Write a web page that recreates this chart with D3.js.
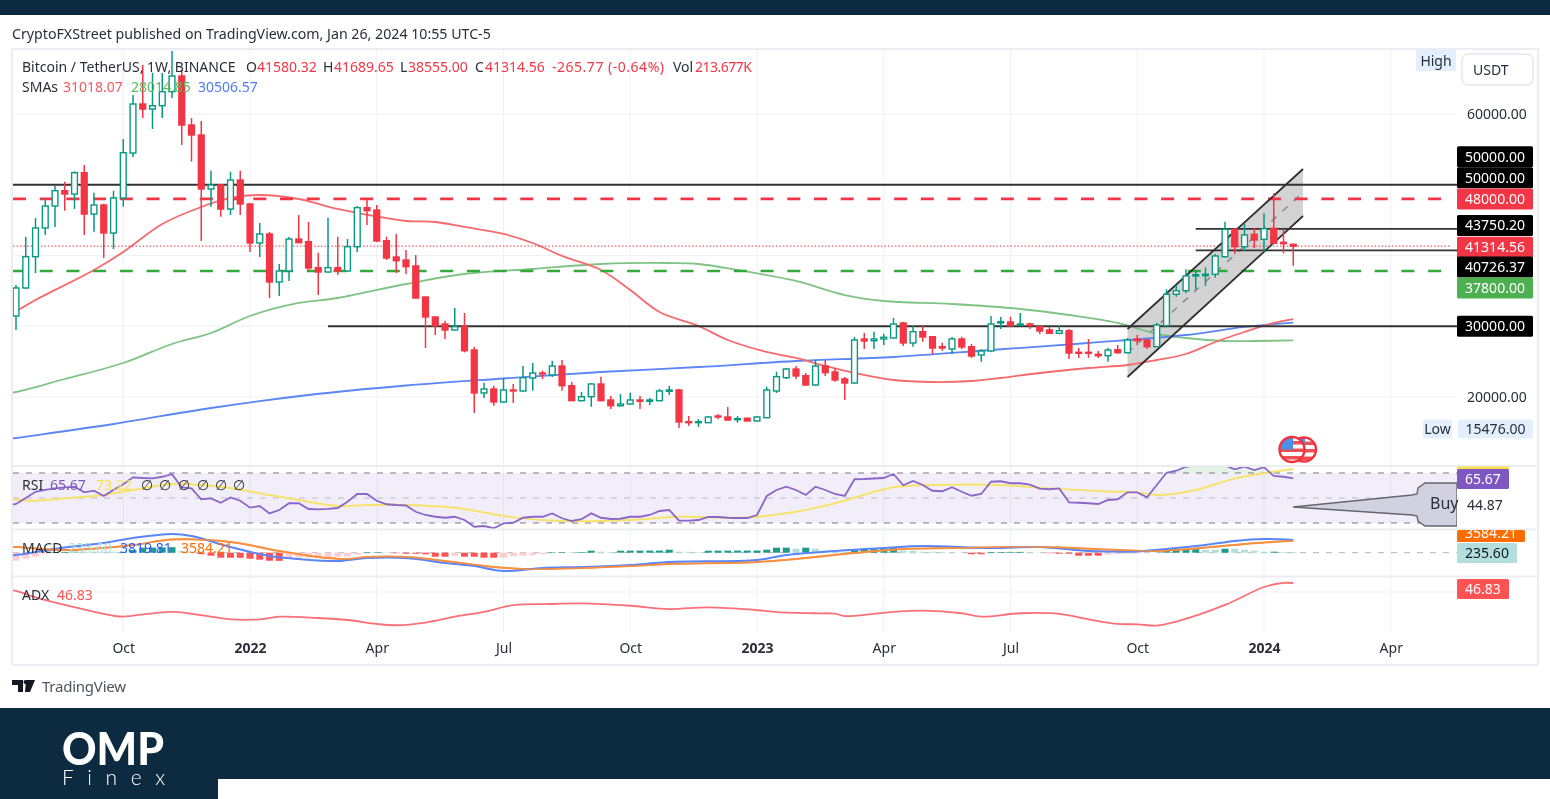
<!DOCTYPE html>
<html>
<head>
<meta charset="utf-8">
<script src="https://cdn.jsdelivr.net/npm/d3@7"></script>
<style>
html, body { margin: 0; padding: 0; background: #fff; overflow: hidden; }
svg { display: block; filter: blur(0.45px); }
text { font-family: "Noto Sans", sans-serif; font-size: 14px; fill: #2a2e39; }
</style>
</head>
<body>
<svg id="chart" width="1550" height="799"></svg>
<script>
// weekly candles, bar 0 = first visible week (Jul 2021)
var opens = [
  31450,35410,39830,43890,46990,49160,48690,51700,45860,47140,
  43180,48130,54490,61410,60700,61170,63150,65370,58440,57030,
  49400,49970,46570,50670,47280,41770,43040,36255,37810,42330,
  41950,38290,37670,38290,37810,41240,46760,46430,42090,39790,
  39365,38520,34135,31310,30320,29470,29940,26644,20570,21130,
  19295,20990,20850,22690,23390,23110,24380,21600,19480,20040,
  21840,19577,18770,19010,19577,19390,19480,20806,20990,16510,
  16370,16370,17315,17175,16790,17000,16610,17075,20850,22730,
  23955,23010,21700,24380,23535,22545,21980,28200,27960,28200,
  28340,30460,27635,29230,28525,27110,26785,28200,27110,25935,
  26500,30460,30600,30135,30320,29940,29470,29000,29370,26320,
  26320,26035,25840,26690,26260,28200,28057,27110,30080,34515,
  35025,37105,37145,37345,39830,43700,41245,42997,42290,43845,
  41865,41580.32];
var highs = [
  35830,42660,45300,48130,49860,50430,51900,52790,48880,47300,
  49160,56470,62690,66930,65800,65800,68900,66220,59430,59010,
  51990,50100,51850,51990,47400,44600,43320,38800,42620,45720,
  44735,40400,45340,42660,42330,46990,48130,47140,42660,43040,
  40780,40070,34200,31400,30785,32580,31875,27070,22020,21600,
  22690,21840,24380,24805,23720,25130,25230,22120,20710,21950,
  22870,20140,20425,20610,20140,19860,21130,21555,21130,17315,
  16890,17315,17600,18590,17315,17050,17315,21455,23580,24100,
  24380,23390,25230,25230,24100,22830,28480,29045,29230,28905,
  31165,30645,30035,30035,28620,27675,28480,28525,27490,26785,
  31450,31310,31350,31875,30500,30080,29940,30180,29610,26925,
  28200,26500,26970,27350,28340,28765,28200,30500,35225,35830,
  38050,37950,38330,40213,44780,43890,44453,43890,45965,48790,
  43605,41689.65];
var lows = [
  29470,35260,37530,42900,44030,46330,46570,42900,43360,39650,
  40920,46900,53920,59430,57880,59430,62260,55620,53260,42050,
  46900,45480,45720,45720,40500,39790,33990,34280,36400,41800,
  37950,34420,37600,37245,37700,40500,44310,41910,39365,37530,
  37390,33950,26925,28765,28200,29400,26300,17740,19860,18770,
  19200,19150,20750,20890,22545,22830,20890,21300,19400,18630,
  19400,18305,18630,18950,18305,18870,19400,20280,15620,15945,
  15760,16325,16890,16690,16370,16580,16550,17000,20570,22545,
  22545,21555,21555,22970,22165,19577,21900,26785,26785,27350,
  28280,27210,27110,27820,26080,26545,26080,26785,25510,24990,
  26400,29610,29940,30080,29610,28905,28905,28860,25370,25510,
  25555,25510,24990,26100,26200,27350,26785,27050,30000,34180,
  34660,35124,35690,36865,39700,40213,40640,41060,40540,41625,
  40310,38555];
var closes = [
  35410,39830,43890,46990,49160,48690,51700,45860,47140,43180,
  48130,54530,61410,60700,61170,63150,65370,58440,57030,49400,
  49970,46570,50670,47280,41770,43040,36255,37810,42330,41810,
  38230,37670,38290,37810,41240,46760,46330,42050,39650,39270,
  38420,33990,31310,30080,29470,29940,26545,20570,21130,19295,
  20990,20850,22730,23390,23250,24380,21600,19480,20040,21840,
  19480,18770,19010,19577,19390,19577,20850,20990,16470,16370,
  16510,17175,17175,16750,16935,16610,17175,20990,22870,23955,
  22970,21700,24380,23435,22400,21980,28060,27915,28200,28440,
  30320,27635,29230,28480,26925,26925,28200,27070,25795,26500,
  30320,30645,30080,30320,30135,29330,29000,29370,26220,26180,
  26180,25840,26644,26260,28060,27960,27110,30180,34515,35025,
  37105,37285,37345,39930,43700,41245,42900,42190,43790,41725,
  41670,41314.56];

// moving averages, read at the bars listed
var smaRedBars = [-1,0,2,8,11,15,19,22,25,29,33,37,40,43,46,50,53,56,60,63,66,70,73,77,80,83,86,90,94,98,101,105,110,114,117,120,123,126,129,131];
var smaRedVals = [31700,32156,33711,37951,40495,44450,46856,48130,48550,47985,46573,45513,44877,44736,44030,43040,41767,39950,37951,35124,32015,30036,28057,26362,25513,24383,23394,22404,22121,22263,22687,23394,24100,24524,25231,26079,27775,29189,30461,31018];
var smaGreenBars = [-1,0,5,11,16,20,24,29,33,40,46,53,60,67,70,74,80,85,89,96,103,108,113,117,120,124,127,131];
var smaGreenVals = [20550,20707,22545,24807,27493,29046,31450,33288,33993,35973,37386,38093,38800,38941,38800,37951,36396,34410,33569,33146,32439,31591,30460,28905,28340,27917,27917,28015];
var smaBlueBars = [-1,0,10,20,30,40,50,60,70,80,90,100,110,120,126,131];
var smaBlueVals = [14000,14207,16185,18446,20284,21627,22617,23535,24241,25090,25656,26644,27635,28765,29897,30507];

// RSI from bar -1 to bar 131
var rsiVals = [43.5,
  45.2,50,55,56.5,57.7,58.5,59,54.5,55.9,51.6,56.5,61,66.5,66,65.7,67,69,58.5,57.7,49,
  49.7,46.2,50.5,47.8,42.3,43.6,37.7,40.4,45.8,45.8,41.2,40.9,41.3,42,47,53.2,53.2,47.8,45,44.4,
  44,39,36.4,35,34.2,35,32.4,27,27.6,25.8,29.7,30.2,34.2,35,35,37.7,33.8,31.6,33,37.7,
  34.2,33.2,33.4,35,35,36.4,39.6,40.4,31.9,31.9,32.4,34.8,34.8,34.2,34,34,36.4,51.6,56.4,59,
  56.4,52.4,59,56.4,53.2,51.6,65,65.2,65.6,66,69.2,60.2,63.6,60.4,55.8,55.4,58.6,55,51.8,53.2,
  63,63.4,61.8,61.8,60.7,57.5,57,57.7,46.5,46.2,45.8,45.2,48.4,49,54.5,54.5,50.5,60.4,70.2,71.8,
  75,76,76,76,76,73,75,72.4,74.6,67.6,67,65.67];
var rsiMaBars = [-1,2,5,9,12,16,19,22,26,29,33,36,39,45,47,51,56,63,68,75,80,84,90,94,101,106,112,115,117,121,125,129,131];
var rsiMaVals = [49.4,47.8,49.7,52.4,56.4,61.2,60.4,58,52.4,48.4,43.6,44.4,44.6,42.2,39.8,34.5,31.6,32.4,35,34.5,39,45.8,58.6,60.4,60.4,57.7,55.2,54.5,52.4,56.4,65.7,71,73.22];

// MACD
var macdBars = [-1,0,5,9,12,16,18,22,26,29,33,36,40,44,47,50,54,58,63,67,76,79,84,89,93,100,105,110,115,118,122,125,128,131];
var macdVals = [-700,-690,1560,2910,4410,5610,5010,1710,-990,-1890,-2490,-1590,-1590,-3090,-3990,-5490,-4590,-4290,-3690,-2790,-2190,-690,510,1410,2010,1410,1710,510,360,1110,2310,3510,4110,3819.81];
var signalBars = [-1,0,5,12,16,22,27,31,34,36,40,44,49,52,58,63,67,76,82,86,91,96,105,113,117,121,126,131];
var signalVals = [1800,1710,810,2310,3960,3210,510,-1290,-1890,-1290,-1290,-2490,-4290,-4890,-4590,-3990,-3390,-2790,-1290,-90,1110,1410,1710,810,510,1260,2610,3584.21];
var histVals = [
  -2400,-1800,-1200,-300,150,250,300,280,260,240,230,250,800,1500,1550,1600,1650,500,300,-450,
  -900,-1500,-1510,-1520,-1800,-2100,-2400,-2450,-1800,-1500,-1490,-1480,-1470,-1200,-1190,-600,150,160,100,-150,
  -300,-310,-450,-1200,-1210,-900,-1200,-1210,-1500,-1510,-1500,-1050,-900,-750,-450,150,160,120,210,600,
  300,210,600,610,620,630,640,900,300,290,150,600,610,620,630,640,650,900,1500,1510,
  1200,1500,1200,600,300,290,900,1200,1210,1220,1500,600,590,300,290,210,150,50,-450,-460,
  210,220,230,240,150,90,-150,-300,-310,-900,-910,-920,-600,-450,-300,-200,-100,50,600,900,
  910,1200,900,890,1200,1190,900,600,300,310,240,235.6];

// ADX
var adxBars = [-1,0,2,5,10,11,16,22,25,27,31,34,37,39,42,45,48,51,55,58,63,67,71,76,78,82,84,85,90,93,97,99,103,107,110,113,115,117,119,124,128,130,131];
var adxVals = [42,40.8,36,30.2,22,21.3,25,19.3,19.3,21.3,20.3,18.8,15.8,14.8,16.8,21.3,25,30,30.9,31.4,29.6,27.1,28.4,26.3,24.8,23.9,23.6,21.8,25,25.9,23.9,21.3,23.9,23.4,19.3,15.8,15.5,14.5,17.5,30.2,43.8,46.9,46.83];

// drawings
var resistance = 48000, support = 37800, lastClose = 41314.56;
var channelBars = [114, 132];
var channelTop = [29611, 52226];
var channelBottom = [22828, 45584];
var hLines = [
  {bar: -1, price: 50000},
  {bar: 32, price: 30000},
  {bar: 121, price: 43750.2},
  {bar: 121, price: 40726.37}
];

// axis labels
var timeTicks = [11, 24, 37, 50, 63, 76, 89, 102, 115, 128, 141];
var timeLabels = ["Oct", "2022", "Apr", "Jul", "Oct", "2023", "Apr", "Jul", "Oct", "2024", "Apr"];
var priceTicks = [60000, 20000];
var gridPrices = [60000, 50000, 40000, 30000, 20000];
var priceTags = [50000, 50000, 48000, 43750.2, 41314.56, 40726.37, 37800, 30000];
var priceTagColors = ["#000", "#000", "#f23645", "#000", "#f23645", "#000", "#4caf50", "#000"];
// tags pushed apart by the price scale so they do not overlap
var priceTagShift = [-28, -7, 0, -3.5, 1, 16.7, 17, 0];

var svg = d3.select("#chart");
var defs = svg.append("defs");

var x = d3.scaleLinear().domain([0, 128]).range([16, 1264]);
var priceY = d3.scaleLinear().domain([60000, 20000]).range([114, 397]);
var rsiY = d3.scaleLinear().domain([70, 30]).range([473, 523]);
var macdY = d3.scaleLinear().domain([0, 3000]).range([552.7, 542.7]);
var adxY = d3.scaleLinear().domain([46.83, 15]).range([583, 625]);

function addClip(id, cx, cy, w, h) {
  defs.append("clipPath").attr("id", id).append("rect")
    .attr("x", cx).attr("y", cy).attr("width", w).attr("height", h);
}
addClip("clipMain", 13, 50, 1444, 415);
addClip("clipRsi", 13, 467, 1444, 62);
addClip("clipMacd", 13, 530, 1444, 46);
addClip("clipAdx", 13, 578, 1444, 59);
addClip("clipOrange", 1457, 530, 70, 13);
addClip("clipBuy", 1280, 467, 177, 62);

// background bands
svg.append("rect").attr("width", 1550).attr("height", 15).attr("fill", "#0c2b40");
svg.append("rect").attr("y", 708).attr("width", 1550).attr("height", 91).attr("fill", "#0c2b40");
svg.append("rect").attr("x", 218).attr("y", 779).attr("width", 1332).attr("height", 20).attr("fill", "#fff");

svg.append("text").attr("x", 12).attr("y", 39).style("font-size", "14.2px")
  .text("CryptoFXStreet published on TradingView.com, Jan 26, 2024 10:55 UTC-5");

// grid
svg.selectAll(".vgrid").data(timeTicks).enter().append("line")
  .attr("x1", d => x(d)).attr("x2", d => x(d)).attr("y1", 50).attr("y2", 632)
  .attr("stroke", "#f0f1f6").attr("stroke-width", 1);
svg.selectAll(".hgrid").data(gridPrices).enter().append("line")
  .attr("x1", 13).attr("x2", 1457).attr("y1", d => priceY(d)).attr("y2", d => priceY(d))
  .attr("stroke", "#f0f1f6").attr("stroke-width", 1);
svg.append("line").attr("x1", 13).attr("x2", 1457).attr("y1", adxY(40)).attr("y2", adxY(40))
  .attr("stroke", "#f0f1f6");

// main pane
var main = svg.append("g").attr("clip-path", "url(#clipMain)");

function lineFrom(scale, bars, vals) {
  var pts = bars.map((b, i) => [x(b), scale(vals[i])]);
  return d3.line().curve(d3.curveCatmullRom.alpha(0.5))(pts);
}
function addLine(g, scale, bars, vals, color, width) {
  g.append("path").attr("d", lineFrom(scale, bars, vals))
    .attr("fill", "none").attr("stroke", color).attr("stroke-width", width || 1.8);
}

// channel
var chanArea = d3.area().x(d => x(d.b)).y0(d => priceY(d.t)).y1(d => priceY(d.l));
var chanData = channelBars.map((b, i) => ({b: b, t: channelTop[i], l: channelBottom[i]}));
main.append("path").attr("d", chanArea(chanData)).attr("fill", "#8c8c8c").attr("fill-opacity", 0.38);
var chanLine = d3.line().x(d => x(d[0])).y(d => priceY(d[1]));
main.append("path")
  .attr("d", chanLine(channelBars.map((b, i) => [b, (channelTop[i] + channelBottom[i]) / 2])))
  .attr("fill", "none").attr("stroke", "#8a8a8a").attr("stroke-width", 1.5).attr("stroke-dasharray", "7,8");

// moving averages
addLine(main, priceY, smaGreenBars, smaGreenVals, "#7fc484");
addLine(main, priceY, smaBlueBars, smaBlueVals, "#5b86f7");
addLine(main, priceY, smaRedBars, smaRedVals, "#f66a6e");

// dashed levels
main.append("line").attr("x1", 13).attr("x2", 1450).attr("y1", priceY(lastClose)).attr("y2", priceY(lastClose))
  .attr("stroke", "#f23645").attr("stroke-width", 1.2).attr("stroke-dasharray", "1.5,2").attr("stroke-opacity", 0.8);
main.append("line").attr("x1", 13).attr("x2", 1446).attr("y1", priceY(resistance)).attr("y2", priceY(resistance))
  .attr("stroke", "#f23645").attr("stroke-width", 2.6).attr("stroke-dasharray", "13,13.7");
main.append("line").attr("x1", 13).attr("x2", 1446).attr("y1", priceY(support)).attr("y2", priceY(support))
  .attr("stroke", "#35a83c").attr("stroke-width", 2.6).attr("stroke-dasharray", "13,13.7");

// black levels
main.selectAll(".hl").data(hLines).enter().append("line")
  .attr("x1", d => x(d.bar)).attr("x2", 1457)
  .attr("y1", d => priceY(d.price)).attr("y2", d => priceY(d.price))
  .attr("stroke", "#333").attr("stroke-width", 1.8);

// channel borders
[channelTop, channelBottom].forEach(function (side) {
  main.append("path").attr("d", chanLine(channelBars.map((b, i) => [b, side[i]])))
    .attr("fill", "none").attr("stroke", "#2f2f2f").attr("stroke-width", 1.8);
});

// candles
var up = "#089981", down = "#f23645";
var candles = main.selectAll(".candle").data(opens).enter().append("g");
candles.append("line")
  .attr("x1", (d, i) => x(i)).attr("x2", (d, i) => x(i))
  .attr("y1", (d, i) => priceY(highs[i])).attr("y2", (d, i) => priceY(lows[i]))
  .attr("stroke", (d, i) => closes[i] >= d ? up : down).attr("stroke-width", 1.5);
candles.append("rect")
  .attr("x", (d, i) => x(i) - 2.9).attr("width", 5.8)
  .attr("y", (d, i) => priceY(Math.max(d, closes[i])))
  .attr("height", (d, i) => Math.max(1, Math.abs(priceY(d) - priceY(closes[i]))))
  .attr("fill", (d, i) => closes[i] >= d ? "#fff" : down)
  .attr("stroke", (d, i) => closes[i] >= d ? up : down).attr("stroke-width", 1.4);

// RSI pane
var rsi = svg.append("g").attr("clip-path", "url(#clipRsi)");
rsi.append("rect").attr("x", 13).attr("width", 1444).attr("y", rsiY(70)).attr("height", rsiY(30) - rsiY(70))
  .attr("fill", "#7e57c2").attr("fill-opacity", 0.1);
[70, 50, 30].forEach(function (v) {
  rsi.append("line").attr("x1", 13).attr("x2", 1457).attr("y1", rsiY(v)).attr("y2", rsiY(v))
    .attr("stroke", v == 50 ? "#bcbcc4" : "#787b86").attr("stroke-width", 1.2).attr("stroke-dasharray", "6,7");
});
var rsiBars = d3.range(-1, 132);
var overArea = d3.area()
  .defined((d, i) => rsiVals[i] > 70)
  .x((d, i) => x(d)).y0(rsiY(70)).y1((d, i) => rsiY(rsiVals[i]));
rsi.append("path").attr("d", overArea(rsiBars)).attr("fill", "#4caf50").attr("fill-opacity", 0.15);
addLine(rsi, rsiY, rsiMaBars, rsiMaVals, "#f7e36b", 2);
rsi.append("path")
  .attr("d", d3.line().x(d => x(d)).y((d, i) => rsiY(rsiVals[i]))(rsiBars))
  .attr("fill", "none").attr("stroke", "#8b66c9").attr("stroke-width", 1.8);

// MACD pane
var macd = svg.append("g").attr("clip-path", "url(#clipMacd)");
macd.append("line").attr("x1", 13).attr("x2", 1457).attr("y1", macdY(0)).attr("y2", macdY(0))
  .attr("stroke", "#b5b7bf").attr("stroke-dasharray", "6,7");
macd.selectAll(".hist").data(histVals).enter().append("rect")
  .attr("x", (d, i) => x(i) - 3.5).attr("width", 7)
  .attr("y", d => Math.min(macdY(d), macdY(0)))
  .attr("height", d => Math.abs(macdY(d) - macdY(0)))
  .attr("fill", function (d, i) {
    var prev = i > 0 ? histVals[i - 1] : d - 1;
    if (d >= 0) return d > prev ? "#1d9c8b" : "#b2dfdb";
    return d < prev ? "#ff5252" : "#ffcdd2";
  });
addLine(macd, macdY, signalBars, signalVals, "#f98f3f", 2);
addLine(macd, macdY, macdBars, macdVals, "#5b86f7", 2);
// orange on top where both lines run together
addLine(macd, macdY, signalBars, signalVals, "#f98f3f", 1.3);

// ADX pane
var adx = svg.append("g").attr("clip-path", "url(#clipAdx)");
addLine(adx, adxY, adxBars, adxVals, "#fb7078", 1.8);

// frame and pane separators
svg.append("rect").attr("x", 12).attr("y", 49).attr("width", 1526).attr("height", 616)
  .attr("fill", "none").attr("stroke", "#ebedf3").attr("stroke-width", 2);
[466, 529.5, 576.5].forEach(function (sy) {
  svg.append("line").attr("x1", 13).attr("x2", 1537).attr("y1", sy).attr("y2", sy)
    .attr("stroke", "#ebedf3").attr("stroke-width", 2);
});

// time axis
var timeAxis = d3.axisBottom(x).tickValues(timeTicks).tickSize(0).tickFormat((d, i) => timeLabels[i]);
var tg = svg.append("g").attr("transform", "translate(0,640)").call(timeAxis);
tg.select(".domain").remove();
tg.selectAll("text").attr("fill", null).style("font-size", "14px")
  .style("font-weight", (d, i) => /^20/.test(timeLabels[i]) ? "bold" : "normal");

// price axis
var priceAxis = d3.axisRight(priceY).tickValues(priceTicks).tickSize(0).tickFormat(d3.format(".2f"));
var pg = svg.append("g").attr("transform", "translate(1467,0)").call(priceAxis);
pg.select(".domain").remove();
pg.selectAll("text").attr("x", 0).attr("fill", null);

// price tags
function tag(yc, x0, w, h, color, label, txtColor) {
  var g = svg.append("g");
  g.append("rect").attr("x", x0).attr("y", yc - h / 2).attr("width", w).attr("height", h)
    .attr("rx", 1.5).attr("fill", color);
  g.append("text").attr("x", x0 + w / 2).attr("y", yc + 5).attr("text-anchor", "middle")
    .style("fill", txtColor).text(label);
  return g;
}
priceTags.forEach(function (v, i) {
  tag(priceY(v) + priceTagShift[i], 1457, 76, 21, priceTagColors[i], d3.format(".2f")(v), "#fff");
});

// high / low badges and currency button
tag(60.5, 1416, 40, 21, "#e3effd", "High", "#2a2e39");
tag(429, 1423, 29, 19, "#e3effd", "Low", "#2a2e39");
tag(429, 1458, 75, 19, "#e3effd", "15476.00", "#2a2e39");
svg.append("rect").attr("x", 1462).attr("y", 54).attr("width", 71).attr("height", 31).attr("rx", 6)
  .attr("fill", "#fff").attr("stroke", "#e6e8ee").attr("stroke-width", 1.5);
svg.append("text").attr("x", 1473).attr("y", 75).text("USDT");

// indicator value tags
svg.append("rect").attr("x", 1457).attr("y", 466.5).attr("width", 52).attr("height", 3).attr("fill", "#f7e14a");
tag(479, 1457, 52, 20, "#7e57c2", "65.67", "#fff");
var og = tag(536, 1457, 68, 12, "#ff6d00", "3584.21", "#fff");
og.attr("clip-path", "url(#clipOrange)");
og.select("text").attr("y", 538);
tag(553, 1457, 60, 20, "#b2dfdb", "235.60", "#131722");
tag(589, 1457, 52, 20, "#ff5252", "46.83", "#fff");

// Buy marker
var buyPoints = [[1293, 507], [1412, 495], [1417, 494], [1418, 488], [1425, 483], [1457, 483], [1457, 526], [1425, 526], [1418, 521], [1417, 516], [1412, 515]];
svg.append("g").attr("clip-path", "url(#clipBuy)").append("path")
  .attr("d", d3.line()(buyPoints) + "Z")
  .attr("fill", "#d1d1e0").attr("stroke", "#66666e").attr("stroke-width", 1.4);
svg.append("text").attr("x", 1430).attr("y", 509).style("font-size", "16px").text("Buy");
svg.append("text").attr("x", 1467).attr("y", 510).text("44.87");

// event flags
function flag(id, cx, cy, r) {
  defs.append("clipPath").attr("id", id).append("circle").attr("cx", cx).attr("cy", cy).attr("r", r);
  var g = svg.append("g");
  g.append("circle").attr("cx", cx).attr("cy", cy).attr("r", r).attr("fill", "#fff");
  var c = g.append("g").attr("clip-path", "url(#" + id + ")");
  d3.range(0, 3).forEach(function (k) {
    c.append("rect").attr("x", cx - r).attr("y", cy - r + 4 + k * 7.5).attr("width", 2 * r).attr("height", 3.5).attr("fill", "#f04e55");
  });
  c.append("rect").attr("x", cx - r).attr("y", cy - r).attr("width", r + 1).attr("height", r).attr("fill", "#4a90e8");
  g.append("circle").attr("cx", cx).attr("cy", cy).attr("r", r).attr("fill", "none")
    .attr("stroke", "#f0323f").attr("stroke-width", 2.4);
}
flag("flagB", 1304, 449.5, 12);
flag("flagA", 1292, 449.5, 12.5);

// legends
function legend(items, ly) {
  items.forEach(function (it) {
    var t = svg.append("text").attr("x", it[0]).attr("y", ly).style("fill", it[2] || "#2a2e39").text(it[1]);
    if (it[3]) t.attr("textLength", it[3]);
  });
}
var red = "#f23645";
legend([
  [22, "Bitcoin / TetherUS, 1W, BINANCE"],
  [246, "O"], [257, "41580.32", red],
  [323, "H"], [334, "41689.65", red],
  [400, "L"], [408, "38555.00", red],
  [475, "C"], [485, "41314.56", red],
  [552, "-265.77 (-0.64%)", red, 112],
  [673, "Vol"], [695, "213.677K", red, 57]
], 72);
legend([
  [22, "SMAs"], [63, "31018.07", "#f55a5f"], [131, "28014.85", "#5cb862"], [198, "30506.57", "#4f7df5"]
], 92);
legend([
  [22, "RSI"], [50, "65.67", "#7e57c2"], [96, "73.22", "#f7e14a"],
  [141, "∅"], [159, "∅"], [178, "∅"], [197, "∅"], [215, "∅"], [233, "∅"]
], 490);
legend([
  [22, "MACD"], [68, "235.60", "#b2dfdb"], [120, "3819.81", "#2962ff"], [181, "3584.21", "#ff6d00"]
], 553);
legend([[22, "ADX"], [57, "46.83", "#ff5252"]], 600);

// TradingView mark
svg.append("path")
  .attr("d", "M12 680H23V692H18V685H12ZM26 680H35L30 692H25Z")
  .attr("fill", "#131722");
svg.append("circle").attr("cx", 25.5).attr("cy", 682).attr("r", 2).attr("fill", "#131722");
svg.append("text").attr("x", 42).attr("y", 692).attr("textLength", 84).style("font-size", "15px").style("fill", "#50535e").text("TradingView");

// logo
svg.append("text").attr("x", 62).attr("y", 765)
  .attr("textLength", 102).attr("lengthAdjust", "spacingAndGlyphs")
  .style("font-family", "Lato, sans-serif").style("font-weight", 900).style("font-size", "46px")
  .style("fill", "#fff").text("OMP");
svg.append("text").attr("x", 62).attr("y", 785)
  .attr("textLength", 103)
  .style("font-family", "Lato, sans-serif").style("font-weight", 300).style("font-size", "21px")
  .style("fill", "#fff").text("Finex");
</script>
</body>
</html>
